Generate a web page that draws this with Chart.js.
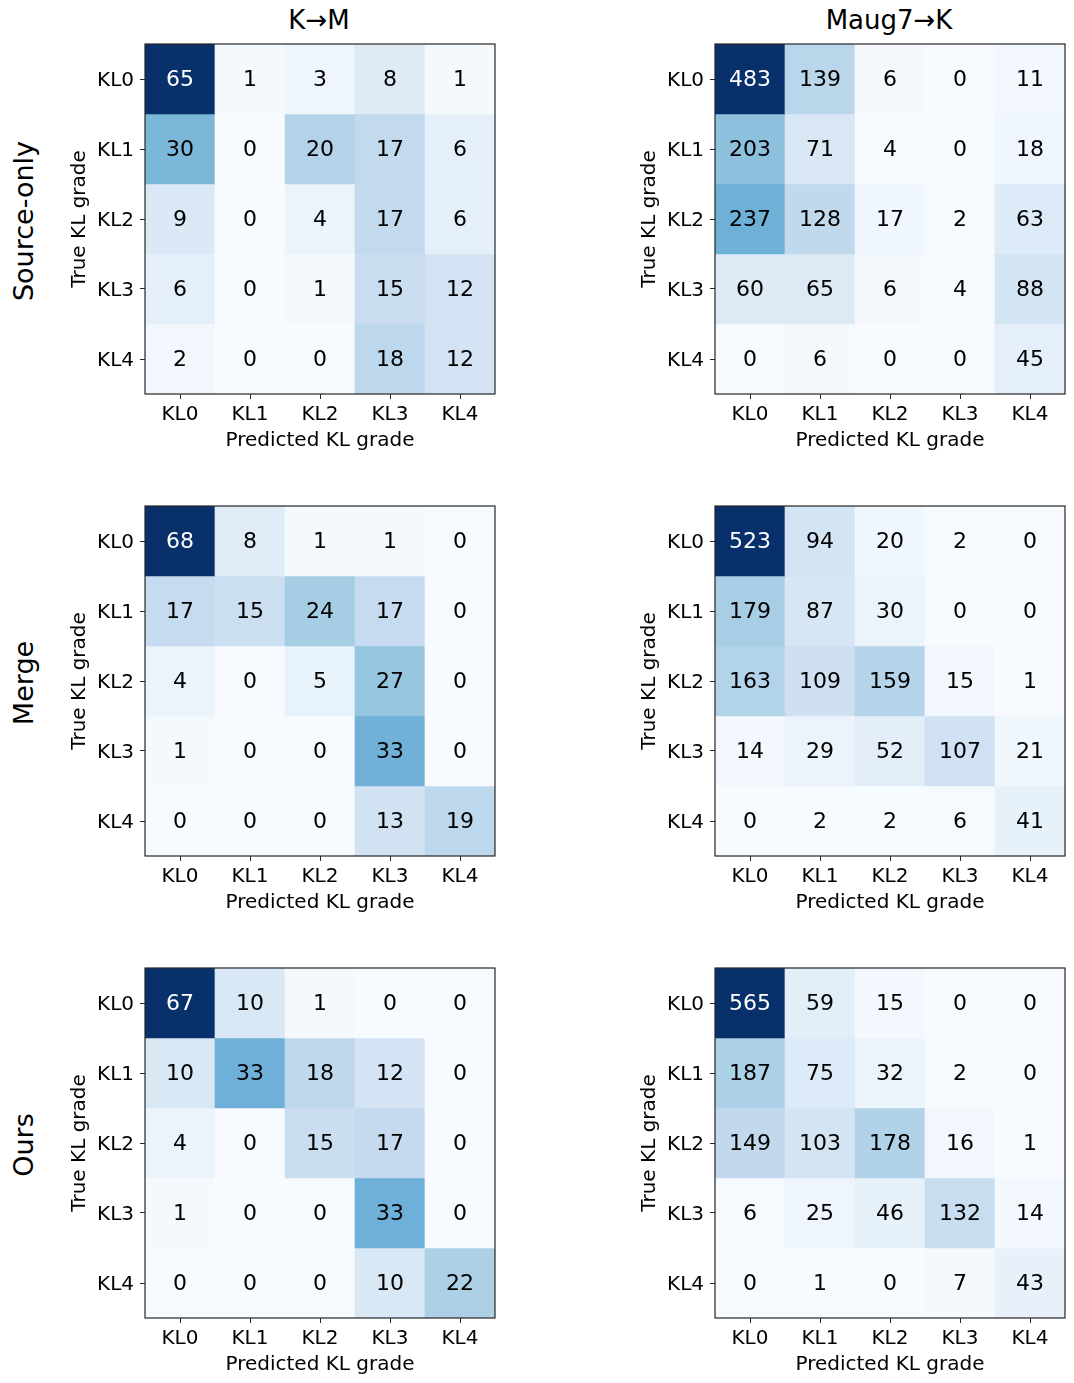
<!DOCTYPE html>
<html>
<head>
<meta charset="utf-8">
<script src="https://cdn.jsdelivr.net/npm/chart.js"></script>
<style>
  body { margin: 0; background: #fff; font-family: 'DejaVu Sans', sans-serif; }
  #page { position: relative; width: 1074px; height: 1383px; overflow: hidden; }
  .panel { position: absolute; width: 441px; height: 420px; }
  .title { position: absolute; font-size: 26px; transform: translate(-50%, -50%); white-space: nowrap; color: #000; }
  .rowlabel { position: absolute; font-size: 27px; transform: translate(-50%, -50%) rotate(-90deg); white-space: nowrap; color: #000; }
</style>
</head>
<body>
<div id="page">
  <div class="title" style="left:319px; top:20px;">K→M</div>
  <div class="title" style="left:889px; top:20px;">Maug7→K</div>
  <div class="rowlabel" style="left:23px; top:221px;">Source-only</div>
  <div class="rowlabel" style="left:23px; top:683px;">Merge</div>
  <div class="rowlabel" style="left:23px; top:1145px;">Ours</div>
</div>
<script>
// KL grades used for both axes
const grades = ['KL0', 'KL1', 'KL2', 'KL3', 'KL4']

// confusion matrices, rows = true grade, cols = predicted grade
const kmSourceOnly = [[65, 1, 3, 8, 1], [30, 0, 20, 17, 6], [9, 0, 4, 17, 6], [6, 0, 1, 15, 12], [2, 0, 0, 18, 12]]
const mkSourceOnly = [[483, 139, 6, 0, 11], [203, 71, 4, 0, 18], [237, 128, 17, 2, 63], [60, 65, 6, 4, 88], [0, 6, 0, 0, 45]]
const kmMerge = [[68, 8, 1, 1, 0], [17, 15, 24, 17, 0], [4, 0, 5, 27, 0], [1, 0, 0, 33, 0], [0, 0, 0, 13, 19]]
const mkMerge = [[523, 94, 20, 2, 0], [179, 87, 30, 0, 0], [163, 109, 159, 15, 1], [14, 29, 52, 107, 21], [0, 2, 2, 6, 41]]
const kmOurs = [[67, 10, 1, 0, 0], [10, 33, 18, 12, 0], [4, 0, 15, 17, 0], [1, 0, 0, 33, 0], [0, 0, 0, 10, 22]]
const mkOurs = [[565, 59, 15, 0, 0], [187, 75, 32, 2, 0], [149, 103, 178, 16, 1], [6, 25, 46, 132, 14], [0, 1, 0, 7, 43]]

// matplotlib "Blues" anchor colours
const bluesStops = [
  [247, 251, 255], [222, 235, 247], [198, 219, 239], [158, 202, 225], [107, 174, 214],
  [66, 146, 198], [33, 113, 181], [8, 81, 156], [8, 48, 107]
]

function bluesColor(t) {
  t = Math.max(0, Math.min(1, t))
  const pos = t * (bluesStops.length - 1)
  const i = Math.min(Math.floor(pos), bluesStops.length - 2)
  const f = pos - i
  const a = bluesStops[i], b = bluesStops[i + 1]
  const rgb = a.map((v, k) => Math.round(v + (b[k] - v) * f))
  return `rgb(${rgb[0]}, ${rgb[1]}, ${rgb[2]})`
}

const FONT = "'DejaVu Sans', sans-serif"
const INK = '#262626'
const TICK_SIZE = 20

// cell numbers, placed at the centre of each bar element
const cellLabels = {
  id: 'cellLabels',
  afterDatasetsDraw(chart, args, opts) {
    const m = opts.matrix
    const flat = m.flat()
    const thresh = (Math.max(...flat) + Math.min(...flat)) / 2
    const ctx = chart.ctx
    ctx.save()
    ctx.font = `22px ${FONT}`
    ctx.textAlign = 'center'
    ctx.textBaseline = 'middle'
    chart.data.datasets.forEach((ds, r) => {
      chart.getDatasetMeta(r).data.forEach((bar, c) => {
        const v = m[r][c]
        ctx.fillStyle = v > thresh ? '#fff' : '#000'
        ctx.fillText(String(v), bar.x, (bar.y + bar.base) / 2 + 1.5)
      })
    })
    ctx.restore()
  }
}

// black frame round the plot area
const frame = {
  id: 'frame',
  afterDraw(chart) {
    const { ctx, chartArea: a } = chart
    ctx.save()
    ctx.strokeStyle = INK
    ctx.lineWidth = 1.2
    ctx.strokeRect(a.left, a.top, a.right - a.left, a.bottom - a.top)
    ctx.restore()
  }
}

function drawMatrix(matrix, left, top) {
  const page = document.getElementById('page')
  const box = document.createElement('div')
  box.className = 'panel'
  box.style.left = (left - 85) + 'px'
  box.style.top = (top - 10) + 'px'
  const canvas = document.createElement('canvas')
  box.appendChild(canvas)
  page.appendChild(box)

  const max = Math.max(...matrix.flat())
  const min = Math.min(...matrix.flat())

  const datasets = matrix.map((row, r) => ({
    label: grades[r],
    data: row.map(() => [r, r + 1]),
    backgroundColor: row.map(v => bluesColor((v - min) / (max - min))),
    borderWidth: 0,
    barPercentage: 1,
    categoryPercentage: 1,
    grouped: false
  }))

  new Chart(canvas, {
    type: 'bar',
    data: { labels: grades, datasets },
    options: {
      responsive: true,
      maintainAspectRatio: false,
      animation: false,
      events: [],
      layout: { padding: { top: 10, right: 6, left: 0, bottom: 0 } },
      plugins: {
        legend: { display: false },
        tooltip: { enabled: false },
        cellLabels: { matrix }
      },
      scales: {
        x: {
          grid: { display: true, drawOnChartArea: false, drawTicks: true, tickLength: 5, offset: false, color: INK, lineWidth: 1 },
          border: { display: false },
          ticks: { color: '#000', font: { family: FONT, size: TICK_SIZE }, padding: 4, maxRotation: 0 },
          title: { display: true, text: 'Predicted KL grade', color: '#000', font: { family: FONT, size: TICK_SIZE }, padding: { top: 0, bottom: 1 } },
          afterFit(scale) {
            scale.height = 60
            scale.paddingLeft = 0
            scale.paddingRight = 0
          }
        },
        y: {
          type: 'linear',
          reverse: true,
          min: 0,
          max: 5,
          grid: { display: true, drawOnChartArea: false, drawTicks: true, tickLength: 5, color: INK, lineWidth: 1 },
          border: { display: false },
          afterBuildTicks(scale) {
            scale.ticks = grades.map((g, i) => ({ value: i + 0.5 }))
          },
          ticks: {
            color: '#000',
            font: { family: FONT, size: TICK_SIZE },
            padding: 6,
            labelOffset: 1.5,
            callback: (value) => grades[Math.floor(value)]
          },
          title: { display: true, text: 'True KL grade', color: '#000', font: { family: FONT, size: TICK_SIZE }, padding: { top: 8, bottom: 0 } },
          afterFit(scale) {
            scale.width = 85
            scale.paddingTop = 0
            scale.paddingBottom = 0
          }
        }
      }
    },
    plugins: [cellLabels, frame]
  })
}

drawMatrix(kmSourceOnly, 145, 44)
drawMatrix(mkSourceOnly, 715, 44)
drawMatrix(kmMerge, 145, 506)
drawMatrix(mkMerge, 715, 506)
drawMatrix(kmOurs, 145, 968)
drawMatrix(mkOurs, 715, 968)
</script>
</body>
</html>
